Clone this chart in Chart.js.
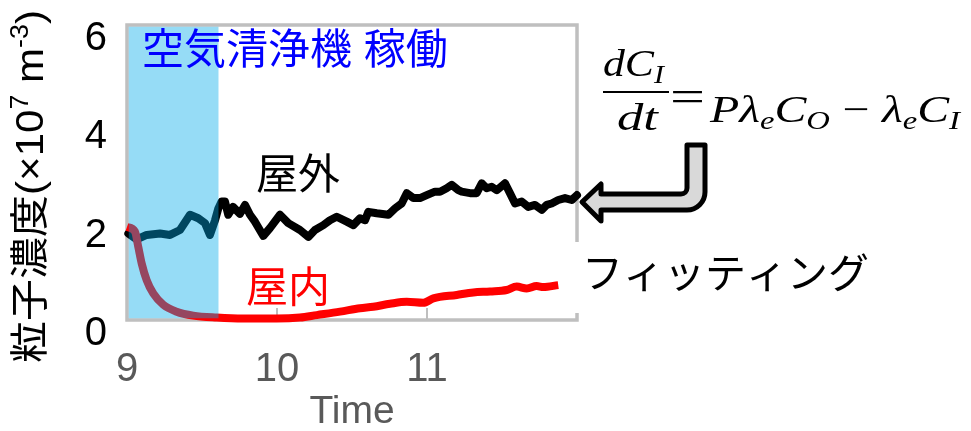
<!DOCTYPE html>
<html>
<head>
<meta charset="utf-8">
<script src="https://cdn.jsdelivr.net/npm/chart.js@4"></script>
<style>
  html, body { margin: 0; padding: 0; background: #ffffff; }
  #wrap { position: relative; width: 971px; height: 431px; }
</style>
</head>
<body>
<div id="wrap"><canvas id="chart"></canvas></div>
<script>
// Outdoor particle concentration (×10^7 m^-3) against time of day (hours)
const outdoorTime = [9.009, 9.065, 9.131, 9.220, 9.287, 9.353, 9.420, 9.475, 9.520, 9.553, 9.587, 9.609, 9.631, 9.653, 9.675, 9.707, 9.753, 9.787, 9.820, 9.853, 9.909, 9.953, 10.020, 10.075, 10.153, 10.209, 10.253, 10.309, 10.353, 10.398, 10.465, 10.509, 10.553, 10.587, 10.609, 10.665, 10.742, 10.787, 10.831, 10.865, 10.909, 10.953, 10.998, 11.053, 11.087, 11.131, 11.165, 11.209, 11.231, 11.287, 11.331, 11.365, 11.398, 11.431, 11.465, 11.520, 11.553, 11.587, 11.631, 11.675, 11.720, 11.765, 11.798, 11.831, 11.875, 11.920, 11.965, 12.000];
const outdoorConc = [1.76, 1.64, 1.73, 1.76, 1.73, 1.83, 2.14, 2.07, 1.97, 1.73, 2.03, 2.27, 2.41, 2.41, 2.14, 2.30, 2.16, 2.34, 2.14, 2.00, 1.71, 1.87, 2.14, 1.97, 1.83, 1.69, 1.83, 1.93, 2.03, 2.10, 2.00, 1.93, 2.07, 2.03, 2.20, 2.17, 2.14, 2.27, 2.37, 2.58, 2.48, 2.48, 2.54, 2.61, 2.61, 2.68, 2.75, 2.64, 2.61, 2.58, 2.58, 2.78, 2.68, 2.71, 2.64, 2.78, 2.58, 2.37, 2.41, 2.30, 2.34, 2.24, 2.34, 2.37, 2.44, 2.48, 2.44, 2.54];

// Indoor concentration (fitted curve)
const indoorTime = [9.000, 9.053, 9.075, 9.098, 9.131, 9.175, 9.242, 9.331, 9.442, 9.598, 9.775, 9.998, 10.153, 10.265, 10.420, 10.553, 10.642, 10.753, 10.865, 10.975, 11.042, 11.198, 11.309, 11.420, 11.531, 11.598, 11.665, 11.731, 11.775, 11.875];
const indoorConc = [1.89, 1.80, 1.49, 1.15, 0.81, 0.54, 0.31, 0.17, 0.09, 0.05, 0.03, 0.03, 0.05, 0.10, 0.17, 0.24, 0.27, 0.33, 0.37, 0.35, 0.44, 0.51, 0.56, 0.58, 0.61, 0.68, 0.64, 0.69, 0.67, 0.71];

// Period during which the air purifier was running (hours)
const purifierPeriod = [9.0, 9.61];

// Axis ticks
const xTickValues = [9, 10, 11];
const yTickValues = [0, 2, 4, 6];
const xInnerTicks = [10, 11];

const LATIN = '"Liberation Sans", Arial, sans-serif';
const CJK = '"Liberation Sans", "Noto Sans CJK JP", sans-serif';
const MATH = '"Liberation Serif", "DejaVu Serif", serif';

function toPoints(xs, ys) { return xs.map((x, i) => ({ x: x, y: ys[i] })); }

// Draws a list of text runs, fitted horizontally to a given width
function drawRuns(ctx, runs, x0, baseline, targetWidth) {
  let total = 0;
  runs.forEach(r => { ctx.font = r.font; r.w = ctx.measureText(r.t).width; total += r.w + (r.gap || 0); });
  const sx = targetWidth ? targetWidth / total : 1;
  ctx.save();
  ctx.translate(x0, baseline);
  ctx.scale(sx, 1);
  let x = 0;
  runs.forEach(r => {
    ctx.font = r.font;
    ctx.fillText(r.t, x, r.dy || 0);
    x += r.w + (r.gap || 0);
  });
  ctx.restore();
}

const decorPlugin = {
  id: 'decor',
  beforeDatasetsDraw(chart) {
    const { ctx, chartArea: a, scales } = chart;
    ctx.save();
    // plot frame
    ctx.strokeStyle = '#bfbfbf';
    ctx.lineWidth = 3.5;
    ctx.strokeRect(a.left, a.top, a.right - a.left, a.bottom - a.top);
    // small inward tick marks on the time axis
    ctx.lineWidth = 2;
    xInnerTicks.forEach(v => {
      const px = scales.x.getPixelForValue(v);
      ctx.beginPath();
      ctx.moveTo(px, a.bottom - 1);
      ctx.lineTo(px, a.bottom - 12);
      ctx.stroke();
    });
    ctx.restore();
  },
  afterDatasetsDraw(chart) {
    const { ctx, chartArea: a, scales } = chart;
    const x0 = scales.x.getPixelForValue(purifierPeriod[0]);
    const x1 = scales.x.getPixelForValue(purifierPeriod[1]);
    ctx.save();
    ctx.fillStyle = 'rgba(0,171,232,0.41)';
    ctx.fillRect(x0 + 1.75, a.top + 1.75, x1 - x0 - 1.75, a.bottom - a.top - 3.5);
    ctx.restore();
  },
  afterDraw(chart) {
    const { ctx } = chart;
    ctx.save();

    // y-axis title, rotated
    ctx.save();
    ctx.translate(32, 187);
    ctx.rotate(-Math.PI / 2);
    ctx.fillStyle = '#000000';
    ctx.textBaseline = 'middle';
    drawRuns(ctx, [
      { t: '粒子濃度', font: '39px ' + CJK },
      { t: '(×10', font: '39px ' + LATIN },
      { t: '7', font: '25px ' + LATIN, dy: -11 },
      { t: ' m', font: '39px ' + LATIN },
      { t: '-3', font: '25px ' + LATIN, dy: -11 },
      { t: ')', font: '39px ' + LATIN }
    ], -176, 0, 353);
    ctx.restore();

    ctx.textBaseline = 'middle';
    ctx.textAlign = 'left';

    // annotation labels
    ctx.fillStyle = '#0000ff';
    ctx.font = '42px ' + CJK;
    ctx.fillText('空気清浄機 稼働', 142, 52);

    ctx.fillStyle = '#000000';
    ctx.fillText('屋外', 256, 177);

    ctx.fillStyle = '#ff0000';
    ctx.fillText('屋内', 246, 290);

    // label box for the fitting text
    ctx.fillStyle = '#ffffff';
    ctx.fillRect(572, 242, 399, 71);
    ctx.fillStyle = '#000000';
    ctx.font = '41px ' + CJK;
    ctx.fillText('フィッティング', 582, 277);

    // model equation: dC_I/dt = P λe CO − λe CI
    ctx.textBaseline = 'alphabetic';
    const it = 'italic 38px ' + MATH;
    const itS = 'italic 26px ' + MATH;
    drawRuns(ctx, [
      { t: 'd', font: it }, { t: 'C', font: it }, { t: 'I', font: itS, dy: 7 }
    ], 603, 76, 61);
    ctx.fillRect(603, 91, 66, 2);
    drawRuns(ctx, [{ t: 'd', font: it }, { t: 't', font: it }], 617, 130, 41);
    drawRuns(ctx, [{ t: '=', font: '44px ' + MATH }], 670, 111, 35);
    drawRuns(ctx, [
      { t: 'P', font: it },
      { t: 'λ', font: it },
      { t: 'e', font: itS, dy: 7 },
      { t: 'C', font: it },
      { t: 'O', font: itS, dy: 7, gap: 10 },
      { t: '−', font: '38px ' + MATH, gap: 10 },
      { t: 'λ', font: it },
      { t: 'e', font: itS, dy: 7 },
      { t: 'C', font: it },
      { t: 'I', font: itS, dy: 7 }
    ], 710, 122, 250);

    // bent arrow pointing to the curve
    ctx.beginPath();
    ctx.moveTo(687, 145);
    ctx.lineTo(705, 145);
    ctx.lineTo(705, 190);
    ctx.arcTo(705, 210, 685, 210, 18);
    ctx.lineTo(601, 210);
    ctx.lineTo(601, 221);
    ctx.lineTo(582, 202);
    ctx.lineTo(601, 184);
    ctx.lineTo(601, 194);
    ctx.lineTo(681, 194);
    ctx.arcTo(687, 194, 687, 188, 6);
    ctx.closePath();
    ctx.fillStyle = '#d9d9d9';
    ctx.fill();
    ctx.lineJoin = 'round';
    ctx.lineWidth = 5;
    ctx.strokeStyle = '#000000';
    ctx.stroke();

    ctx.restore();
  }
};

new Chart(document.getElementById('chart'), {
  type: 'line',
  data: {
    datasets: [
      {
        label: '屋内',
        data: toPoints(indoorTime, indoorConc),
        borderColor: '#ff0000',
        borderWidth: 8,
        pointRadius: 0,
        cubicInterpolationMode: 'monotone',
        borderCapStyle: 'butt',
        borderJoinStyle: 'round',
        clip: false
      },
      {
        label: '屋外',
        data: toPoints(outdoorTime, outdoorConc),
        borderColor: '#000000',
        borderWidth: 8,
        pointRadius: 0,
        tension: 0,
        borderCapStyle: 'round',
        borderJoinStyle: 'round',
        clip: false
      }
    ]
  },
  options: {
    responsive: true,
    maintainAspectRatio: false,
    animation: false,
    devicePixelRatio: 1,
    layout: { padding: { left: 0, top: 25, right: 394, bottom: 0 } },
    plugins: { legend: { display: false }, tooltip: { enabled: false } },
    scales: {
      x: {
        type: 'linear',
        min: 9,
        max: 12,
        afterBuildTicks: s => { s.ticks = xTickValues.map(v => ({ value: v })); },
        afterFit: s => { s.height = 111; s.paddingLeft = 0; s.paddingRight = 0; },
        grid: { display: false, drawTicks: false },
        border: { display: false },
        ticks: {
          padding: 26,
          color: '#595959',
          maxRotation: 0,
          autoSkip: false,
          font: { family: LATIN, size: 40, lineHeight: 1.2 },
          callback: v => String(v)
        },
        title: {
          display: true,
          text: 'Time',
          color: '#595959',
          padding: { top: 0, bottom: 0 },
          font: { family: LATIN, size: 39, lineHeight: 0.95 }
        }
      },
      y: {
        min: 0,
        max: 6,
        afterBuildTicks: s => { s.ticks = yTickValues.map(v => ({ value: v })); },
        afterFit: s => { s.width = 127; s.paddingTop = 0; s.paddingBottom = 0; },
        grid: { display: false, drawTicks: false },
        border: { display: false },
        ticks: {
          padding: 20,
          color: '#000000',
          labelOffset: 14,
          font: { family: LATIN, size: 40, lineHeight: 1.2 },
          callback: v => String(v)
        }
      }
    }
  },
  plugins: [decorPlugin]
});
</script>
</body>
</html>
